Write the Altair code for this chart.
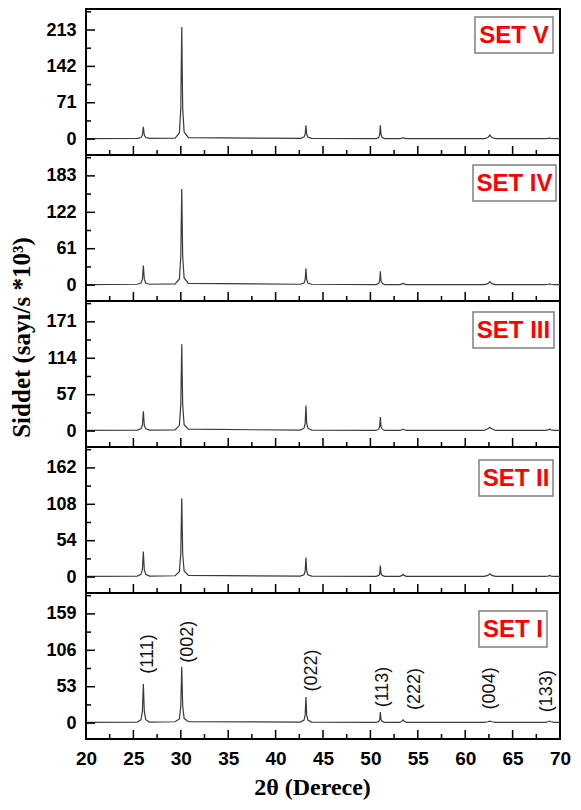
import altair as alt
import pandas as pd

# ---------------- data ----------------
two_theta = [20,
             25.4, 25.8, 25.95, 26.05, 26.15, 26.3, 26.7,
             29.4, 29.85, 30.0, 30.1, 30.2, 30.35, 30.8,
             42.6, 43.0, 43.12, 43.2, 43.28, 43.4, 43.8,
             50.6, 50.88, 50.98, 51.05, 51.12, 51.25, 51.5,
             53.1, 53.35, 53.45, 53.55, 53.8,
             62.0, 62.4, 62.6, 62.8, 63.2,
             68.4, 68.75, 68.9, 69.05, 69.4,
             70]

set_v = [1,
         1.5, 3, 8, 24, 8, 3, 1.5,
         2, 12, 60, 219, 60, 14, 3,
         1.5, 4, 10, 27, 10, 4, 1.5,
         1, 3, 9, 27, 9, 3, 1,
         1, 2, 3, 2, 1,
         1, 3, 8, 3, 1,
         1, 1.5, 2, 1.5, 1,
         1]
set_iv = [1,
          1.5, 3.5, 10, 33, 10, 3.5, 1.5,
          2, 10, 48, 161, 48, 12, 3,
          1.5, 3.5, 9, 28, 9, 3.5, 1.5,
          1, 3, 7, 23, 7, 3, 1,
          1, 2, 3, 2, 1,
          1, 2.5, 6, 2.5, 1,
          1, 1.5, 2, 1.5, 1,
          1]
set_iii = [1,
           1.5, 3.5, 9, 31, 9, 3.5, 1.5,
           2, 9, 41, 136, 41, 10, 3,
           1.5, 4.5, 12, 40, 12, 4.5, 1.5,
           1, 3, 7, 22, 7, 3, 1,
           1, 2, 3, 2, 1,
           1, 3.5, 6, 3.5, 1,
           1, 2, 3, 2, 1,
           1]
set_ii = [1,
          1.5, 4, 11, 38, 11, 4, 1.5,
          2, 8, 35, 117, 35, 9, 2.5,
          1.5, 3.5, 9, 29, 9, 3.5, 1.5,
          1, 2.5, 5, 17, 5, 2.5, 1,
          1, 2.5, 4, 2.5, 1,
          1, 2.5, 5, 2.5, 1,
          1, 1.5, 2.5, 1.5, 1,
          1]
set_i = [1,
         1.5, 5, 17, 57, 17, 5, 1.5,
         2, 6, 25, 82, 25, 7, 2,
         1.5, 4.5, 12, 38, 12, 4.5, 1.5,
         1, 2.5, 5, 16, 5, 2.5, 1,
         1, 3, 5, 3, 1,
         1, 2, 3, 2, 1,
         1, 2, 3, 2, 1,
         1]

set_names = ["SET V", "SET IV", "SET III", "SET II", "SET I"]
set_values = [set_v, set_iv, set_iii, set_ii, set_i]
major_ticks = [[0, 71, 142, 213], [0, 61, 122, 183], [0, 57, 114, 171],
               [0, 54, 108, 162], [0, 53, 106, 159]]
minor_ticks = [[35.5, 106.5, 177.5, 248.5], [30.5, 91.5, 152.5, 213.5],
               [28.5, 85.5, 142.5, 199.5], [27, 81, 135, 189],
               [26.5, 79.5, 132.5, 185.5]]
y_domains = [[-31, 254], [-26.6, 218], [-24.9, 203.6], [-23.6, 193], [-23.1, 189.4]]

x_major = [20, 25, 30, 35, 40, 45, 50, 55, 60, 65, 70]
x_minor = [22.5, 27.5, 32.5, 37.5, 42.5, 47.5, 52.5, 57.5, 62.5, 67.5]

hkl = ["(111)", "(002)", "(022)", "(113)", "(222)", "(004)", "(133)"]
hkl_x = [26.5, 30.8, 43.8, 51.35, 54.75, 62.6, 68.65]
hkl_y = [72, 88, 46, 23, 19, 20, 16]

# ---------------- layout / style ----------------
W, H = 474, 146
box_pos = [(389, 467, 8), (387, 470, 10), (387, 468, 11), (393, 467, 13), (393, 461, 18)]
BOX_H = 36
SANS = "Liberation Sans"
SERIF = "Liberation Serif"

panels = []
for k in range(5):
    is_bottom = k == 4
    is_mid = k == 2
    df = pd.DataFrame({"t": two_theta, "i": set_values[k]})
    if is_bottom:
        x_axis = alt.Axis(values=x_major, ticks=False, domain=False, grid=False,
                          labelFlush=False,
                          labelFont=SANS, labelFontSize=19, labelFontWeight="bold",
                          labelColor="black", labelPadding=10,
                          title="2θ (Derece)", titleFont=SERIF, titleFontSize=24,
                          titleFontWeight="bold", titleColor="black", titlePadding=7,
                          titleX=226)
    else:
        x_axis = None
    y_axis = alt.Axis(values=major_ticks[k], ticks=False, domain=False, grid=False,
                      labelFont=SANS, labelFontSize=18, labelFontWeight="bold",
                      labelColor="black", labelPadding=10, format="d",
                      title="Siddet (sayı/s *10³)" if is_mid else "",
                      titleFont=SERIF, titleFontSize=25, titleFontWeight="bold",
                      titleColor="black", titlePadding=11, titleY=36)
    xs = alt.Scale(domain=[20, 70], nice=False, zero=False)
    ys = alt.Scale(domain=y_domains[k], nice=False, zero=False)

    line = alt.Chart(df).mark_line(color="#3a3a3a", strokeWidth=1.2).encode(
        x=alt.X("t:Q", scale=xs, axis=x_axis),
        y=alt.Y("i:Q", scale=ys, axis=y_axis),
    )
    ymaj = alt.Chart(pd.DataFrame({"i": major_ticks[k]})).mark_rule(
        color="black", strokeWidth=1.5).encode(
        y=alt.Y("i:Q", scale=ys, axis=y_axis), x=alt.value(0), x2=alt.value(9))
    ymin = alt.Chart(pd.DataFrame({"i": minor_ticks[k]})).mark_rule(
        color="black", strokeWidth=1.5).encode(
        y=alt.Y("i:Q", scale=ys, axis=y_axis), x=alt.value(0), x2=alt.value(5))
    xmaj = alt.Chart(pd.DataFrame({"t": x_major})).mark_rule(
        color="black", strokeWidth=1.5).encode(
        x=alt.X("t:Q", scale=xs, axis=x_axis), y=alt.value(H), y2=alt.value(H - 9))
    xmin = alt.Chart(pd.DataFrame({"t": x_minor})).mark_rule(
        color="black", strokeWidth=1.5).encode(
        x=alt.X("t:Q", scale=xs, axis=x_axis), y=alt.value(H), y2=alt.value(H - 5))

    bx0, bx1, by0 = box_pos[k]
    lab_df = pd.DataFrame({"name": [set_names[k]]})
    box = alt.Chart(lab_df).mark_rect(fill="white", stroke="#808080", strokeWidth=1.5).encode(
        x=alt.value(bx0), x2=alt.value(bx1), y=alt.value(by0), y2=alt.value(by0 + BOX_H))
    txt = alt.Chart(lab_df).mark_text(font=SANS, fontSize=24, fontWeight="bold",
                                      color="#ff0000", align="center", baseline="middle").encode(
        text="name:N", x=alt.value((bx0 + bx1) / 2), y=alt.value(by0 + BOX_H / 2 + 1))

    layers = [line, ymaj, ymin, xmaj, xmin, box, txt]
    if is_bottom:
        hdf = pd.DataFrame({"t": hkl_x, "i": hkl_y, "lab": hkl})
        hk = alt.Chart(hdf).mark_text(font=SANS, fontSize=18, color="#111111",
                                      angle=270, align="left", baseline="middle").encode(
            x=alt.X("t:Q", scale=xs, axis=x_axis),
            y=alt.Y("i:Q", scale=ys, axis=y_axis),
            text="lab:N")
        layers.append(hk)
    panels.append(alt.layer(*layers).properties(width=W, height=H))

chart = alt.vconcat(*panels, spacing=0, bounds="flush").properties(
    padding={"left": 0, "top": 0, "right": 0, "bottom": 0},
    background="white",
).configure_view(stroke="black", strokeWidth=2)

chart.save("out.html", embed_options={"renderer": "svg", "actions": False})
